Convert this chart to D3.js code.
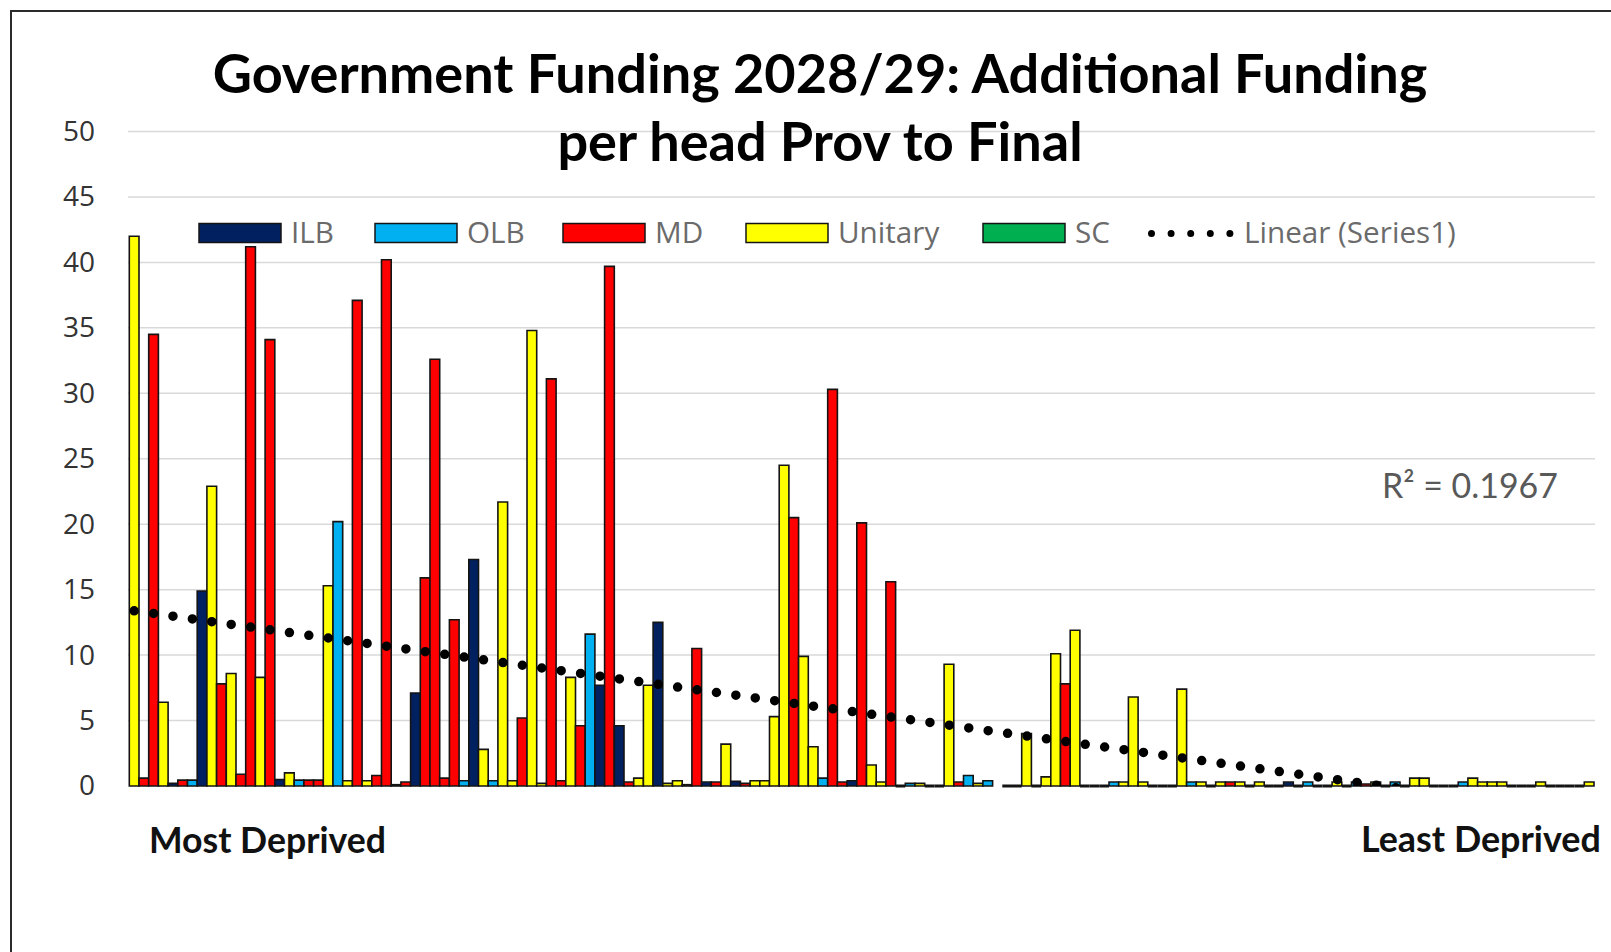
<!DOCTYPE html>
<html>
<head>
<meta charset="utf-8">
<script src="https://cdn.jsdelivr.net/npm/d3@7"></script>
<style>
  body { margin: 0; background: #fff; }
  svg { display: block; font-family: Lato, "Open Sans", sans-serif; }
</style>
</head>
<body>
<svg width="1611" height="952"></svg>
<script>
var svg = d3.select('svg');

// one bar per council, ordered from most deprived (left) to least deprived (right)
// null = empty category (no bar drawn)
var councilType = [
  'Unitary', 'MD', 'MD', 'Unitary', 'ILB', 'MD', 'OLB', 'ILB', 'Unitary', 'MD',
  'Unitary', 'MD', 'MD', 'Unitary', 'MD', 'ILB', 'Unitary', 'OLB', 'MD', 'MD',
  'Unitary', 'OLB', 'Unitary', 'MD', 'Unitary', 'MD', 'MD', 'ILB', 'MD', 'ILB',
  'MD', 'MD', 'MD', 'MD', 'OLB', 'ILB', 'Unitary', 'OLB', 'Unitary', 'Unitary',
  'MD', 'Unitary', 'Unitary', 'MD', 'MD', 'Unitary', 'MD', 'OLB', 'ILB', 'MD',
  'ILB', 'MD', 'Unitary', 'Unitary', 'ILB', 'Unitary', 'Unitary', 'ILB', 'MD', 'ILB',
  'MD', 'Unitary', 'ILB', 'MD', 'Unitary', 'Unitary', 'Unitary', 'Unitary', 'MD', 'Unitary',
  'Unitary', 'OLB', 'MD', 'MD', 'ILB', 'MD', 'Unitary', 'Unitary', 'MD', 'SC',
  'OLB', 'Unitary', 'SC', 'SC', 'Unitary', 'MD', 'OLB', 'Unitary', 'OLB', null,
  'SC', 'SC', 'Unitary', 'SC', 'Unitary', 'Unitary', 'MD', 'Unitary', 'SC', 'SC',
  'SC', 'OLB', 'Unitary', 'Unitary', 'Unitary', 'SC', 'SC', 'SC', 'Unitary', 'OLB',
  'Unitary', 'SC', 'Unitary', 'MD', 'Unitary', 'SC', 'Unitary', 'SC', 'SC', 'ILB',
  'SC', 'OLB', 'SC', 'SC', 'Unitary', 'SC', 'OLB', 'MD', 'Unitary', 'SC',
  'OLB', 'SC', 'Unitary', 'Unitary', 'SC', 'SC', 'SC', 'OLB', 'Unitary', 'Unitary',
  'Unitary', 'Unitary', 'SC', 'SC', 'SC', 'Unitary', 'SC', 'SC', 'SC', 'SC',
  'Unitary'
];

// additional funding per head, provisional to final settlement
var funding = [
  42, 0.6, 34.5, 6.4, 0.2, 0.45, 0.45, 14.9, 22.9, 7.8,
  8.6, 0.9, 41.2, 8.3, 34.1, 0.5, 1.0, 0.45, 0.45, 0.45,
  15.3, 20.2, 0.4, 37.1, 0.4, 0.8, 40.2, 0.1, 0.3, 7.1,
  15.9, 32.6, 0.6, 12.7, 0.4, 17.3, 2.8, 0.4, 21.7, 0.4,
  5.2, 34.8, 0.2, 31.1, 0.4, 8.3, 4.6, 11.6, 7.7, 39.7,
  4.6, 0.3, 0.6, 7.7, 12.5, 0.2, 0.4, 0.1, 10.5, 0.3,
  0.3, 3.2, 0.35, 0.2, 0.4, 0.4, 5.3, 24.5, 20.5, 9.9,
  3.0, 0.6, 30.3, 0.3, 0.4, 20.1, 1.6, 0.3, 15.6, 0,
  0.2, 0.2, 0, 0, 9.3, 0.3, 0.8, 0.2, 0.4, null,
  0, 0, 4.0, 0, 0.7, 10.1, 7.8, 11.9, 0, 0,
  0, 0.3, 0.3, 6.8, 0.3, 0, 0, 0, 7.4, 0.3,
  0.3, 0, 0.3, 0.3, 0.3, 0, 0.3, 0, 0, 0.3,
  0, 0.3, 0, 0, 0.3, 0, 0.3, 0.15, 0.3, 0,
  0.3, 0, 0.6, 0.6, 0, 0, 0, 0.3, 0.6, 0.3,
  0.3, 0.3, 0, 0, 0, 0.3, 0, 0, 0, 0,
  0.3
];

var seriesNames = ['ILB', 'OLB', 'MD', 'Unitary', 'SC'];
var seriesColors = ['#002060', '#00B0F0', '#FF0000', '#FFFF00', '#00B050'];
var yTicks = [0, 5, 10, 15, 20, 25, 30, 35, 40, 45, 50];
var rSquared = '0.1967';

var color = d3.scaleOrdinal().domain(seriesNames).range(seriesColors);

var x = d3.scaleBand()
  .domain(d3.range(funding.length))
  .range([129.3, 1594])
  .padding(0);

var y = d3.scaleLinear()
  .domain([0, 50])
  .range([786, 131.5]);

// shrink/grow a text's font so it spans the wanted width
function fitWidth(text, width) {
  var w = text.node().getComputedTextLength();
  var fs = parseFloat(text.attr('font-size'));
  text.attr('font-size', fs * width / w);
  return fs * width / w;
}

// outer chart border (runs off the bottom/right of the picture)
svg.append('rect')
  .attr('x', 11).attr('y', 11)
  .attr('width', 1660).attr('height', 1000)
  .attr('fill', '#fff')
  .attr('stroke', '#2b2b2b')
  .attr('stroke-width', 2);

////////////////////////////// GRID + Y AXIS ///////////////////////////////

svg.append('g')
  .selectAll('line')
  .data(yTicks.filter(d => d > 0))
  .join('line')
    .attr('x1', 128).attr('x2', 1595)
    .attr('y1', d => y(d)).attr('y2', d => y(d))
    .attr('stroke', '#d9d9d9')
    .attr('stroke-width', 1.5);

var yAxis = svg.append('g')
  .attr('transform', 'translate(95,0)')
  .call(d3.axisLeft(y).tickValues(yTicks).tickSize(0).tickPadding(0));
yAxis.select('.domain').remove();
yAxis.selectAll('text')
  .attr('font-family', '"Open Sans", sans-serif')
  .attr('font-size', 28)
  .attr('fill', '#333');

////////////////////////////// BARS ///////////////////////////////

var barData = funding.map((v, i) => ({ i: i, value: v, type: councilType[i] }))
  .filter(d => d.value !== null);

// paths so that zero-height bars still show their outline
svg.append('g')
  .selectAll('path')
  .data(barData)
  .join('path')
    .attr('d', function(d) {
      var x0 = x(d.i), w = x.bandwidth();
      var top = y(d.value), bottom = y(0);
      return 'M' + x0 + ',' + bottom + 'V' + top + 'H' + (x0 + w) + 'V' + bottom + 'Z';
    })
    .attr('fill', d => color(d.type))
    .attr('stroke', '#141414')
    .attr('stroke-width', d => d.value === 0 ? 3 : 1.6)
    .attr('stroke-linejoin', 'miter');

////////////////////////////// LINEAR TREND ///////////////////////////////

var pts = barData.map(d => [d.i, d.value]);
var mx = d3.mean(pts, p => p[0]);
var my = d3.mean(pts, p => p[1]);
var slope = d3.sum(pts, p => (p[0] - mx) * (p[1] - my)) / d3.sum(pts, p => (p[0] - mx) * (p[0] - mx));
var intercept = my - slope * mx;
var trendEnds = [0, funding.length - 1];

svg.append('clipPath')
  .attr('id', 'plotClip')
  .append('rect')
    .attr('x', 100).attr('y', y(50) - 20)
    .attr('width', 1520).attr('height', y(0) - y(50) + 20);

svg.append('path')
  .attr('clip-path', 'url(#plotClip)')
  .attr('d', d3.line()(trendEnds.map(i => [x(i) + x.bandwidth() / 2, y(intercept + slope * i)])))
  .attr('fill', 'none')
  .attr('stroke', '#000')
  .attr('stroke-width', 9.5)
  .attr('stroke-linecap', 'round')
  .attr('stroke-dasharray', '0 19.6');

svg.append('text')
  .attr('x', 1382).attr('y', 498)
  .attr('font-size', 33)
  .attr('fill', '#595959')
  .text('R² = ' + rSquared)
  .call(t => fitWidth(t, 176));

////////////////////////////// LEGEND ///////////////////////////////

var legendX = [199, 375, 563, 746, 983];
var legend = svg.append('g')
  .attr('font-family', '"Open Sans", sans-serif');
var trendLabel = legend.append('text')
  .attr('x', 1244).attr('y', 242.5)
  .attr('font-size', 25)
  .attr('fill', '#6b6b6b')
  .text('Linear (Series1)');
var legendSize = fitWidth(trendLabel, 212);

seriesNames.forEach(function(name, k) {
  legend.append('rect')
    .attr('x', legendX[k]).attr('y', 223.5)
    .attr('width', 82).attr('height', 19)
    .attr('fill', seriesColors[k])
    .attr('stroke', '#141414')
    .attr('stroke-width', 1.5);
  legend.append('text')
    .attr('x', legendX[k] + 92).attr('y', 242.5)
    .attr('font-size', legendSize)
    .attr('fill', '#6b6b6b')
    .text(name);
});
legend.append('line')
  .attr('x1', 1151.5).attr('x2', 1231)
  .attr('y1', 233.5).attr('y2', 233.5)
  .attr('stroke', '#000')
  .attr('stroke-width', 7)
  .attr('stroke-linecap', 'round')
  .attr('stroke-dasharray', '0 19.6');

////////////////////////////// TITLE + END LABELS ///////////////////////////////

var t1 = svg.append('text')
  .attr('x', 820).attr('y', 92.5)
  .attr('text-anchor', 'middle')
  .attr('font-size', 50)
  .attr('font-weight', 'bold')
  .attr('fill', '#000')
  .text('Government Funding 2028/29: Additional Funding');
var titleSize = fitWidth(t1, 1215);
svg.append('text')
  .attr('x', 820).attr('y', 161)
  .attr('text-anchor', 'middle')
  .attr('font-size', titleSize)
  .attr('font-weight', 'bold')
  .attr('fill', '#000')
  .text('per head Prov to Final');

svg.append('text')
  .attr('x', 149).attr('y', 853)
  .attr('font-size', 32)
  .attr('font-weight', 'bold')
  .attr('fill', '#111')
  .text('Most Deprived')
  .call(t => fitWidth(t, 237));

svg.append('text')
  .attr('x', 1361).attr('y', 852)
  .attr('font-size', 32)
  .attr('font-weight', 'bold')
  .attr('fill', '#111')
  .text('Least Deprived')
  .call(t => fitWidth(t, 240));
</script>
</body>
</html>
